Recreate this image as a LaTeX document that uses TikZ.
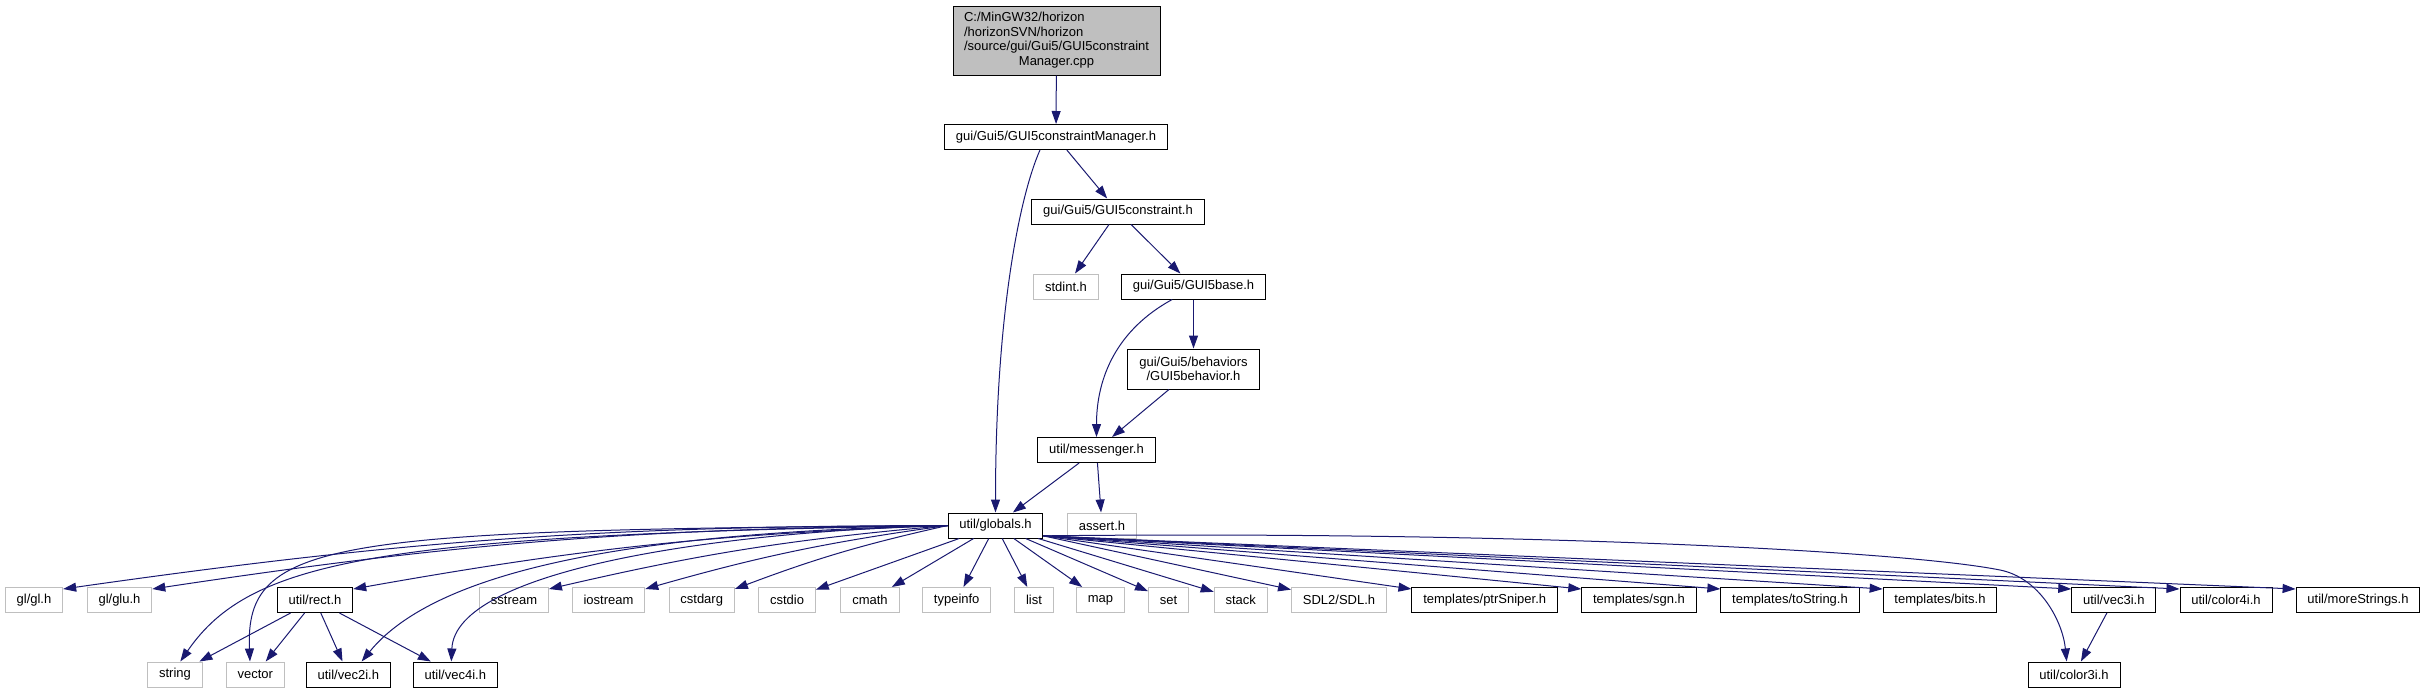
\documentclass[tikz,border=0pt]{standalone}
\usepackage{fontspec}
\setmainfont{Liberation Sans}
\usetikzlibrary{arrows.meta}
\definecolor{edgeblue}{RGB}{25,25,112}
\definecolor{sysgray}{RGB}{191,191,191}

\begin{document}
\begin{tikzpicture}[
  x=0.75pt, y=-0.75pt,
  incfile/.style={rectangle, draw=black, fill=white, line width=0.75pt, inner xsep=8.5pt, inner ysep=1pt, minimum height=18.75pt, font=\fontsize{9.75}{11}\selectfont},
  sysfile/.style={incfile, draw=sysgray},
  rootfile/.style={incfile, fill=sysgray, inner xsep=8.25pt, minimum height=51.75pt},
  arrow/.style={-{Triangle[length=9.75pt, width=6.75pt]}, draw=edgeblue, line width=0.75pt},
]
\useasboundingbox (0,0) rectangle (2425,693);

% Nodes
\node[rootfile] (root) at (1056.5,40.5) {\begin{tabular}{@{}l@{}}C:/MinGW32/horizon\\/horizonSVN/horizon\\/source/gui/Gui5/GUI5constraint\\\multicolumn{1}{@{}c@{}}{Manager.cpp}\end{tabular}};
\node[incfile] (mgr) at (1056,137) {gui/Gui5/GUI5constraintManager.h};
\node[incfile] (cons) at (1118,211.5) {gui/Gui5/GUI5constraint.h};
\node[sysfile] (stdint) at (1066,286.5) {stdint.h};
\node[incfile] (base) at (1193.5,286.5) {gui/Gui5/GUI5base.h};
\node[incfile, align=center, minimum height=30pt] (behav) at (1193.5,369) {gui/Gui5/behaviors\\/GUI5behavior.h};
\node[incfile] (msg) at (1096.5,450) {util/messenger.h};
\node[incfile] (glob) at (995.5,525.5) {util/globals.h};
\node[sysfile] (assrt) at (1102,525.5) {assert.h};

% Row of headers used by globals.h
\node[sysfile] (gl) at (34,600) {gl/gl.h};
\node[sysfile] (glu) at (119.5,600) {gl/glu.h};
\node[incfile] (rect) at (315,600) {util/rect.h};
\node[sysfile] (sstr) at (514,600) {sstream};
\node[sysfile] (iostr) at (608.5,600) {iostream};
\node[sysfile] (cstdarg) at (701.7,600) {cstdarg};
\node[sysfile] (cstdio) at (787,600) {cstdio};
\node[sysfile] (cmath) at (870,600) {cmath};
\node[sysfile] (tinfo) at (956.7,600) {typeinfo};
\node[sysfile] (list) at (1034,600) {list};
\node[sysfile] (map) at (1100.5,600) {map};
\node[sysfile] (set) at (1168.5,600) {set};
\node[sysfile] (stack) at (1240.7,600) {stack};
\node[sysfile] (sdl) at (1339,600) {SDL2/SDL.h};
\node[incfile] (ptrsn) at (1484.7,600) {templates/ptrSniper.h};
\node[incfile] (sgn) at (1639,600) {templates/sgn.h};
\node[incfile] (tostr) at (1790,600) {templates/toString.h};
\node[incfile] (bits) at (1940,600) {templates/bits.h};
\node[incfile] (vecthree) at (2113.8,600) {util/vec3i.h};
\node[incfile] (colfour) at (2226,600) {util/color4i.h};
\node[incfile] (morestr) at (2358,600) {util/moreStrings.h};

% Bottom row
\node[sysfile] (str) at (175,674.5) {string};
\node[sysfile] (vec) at (255.3,674.5) {vector};
\node[incfile] (vectwo) at (348.3,674.5) {util/vec2i.h};
\node[incfile] (vecfour) at (455.3,674.5) {util/vec4i.h};
\node[incfile] (colthree) at (2074,674.5) {util/color3i.h};

% Arrows
\draw[arrow] (root) -- (mgr);
\draw[arrow] (mgr) -- (cons);
\draw[arrow] ([xshift=-12pt]mgr.south) .. controls +(-20,45) and +(0,-200) .. (glob.north);
\draw[arrow] (cons) -- (stdint);
\draw[arrow] (cons) -- (base);
\draw[arrow] ([xshift=-16pt]base.south) .. controls +(-55,30) and +(0,-60) .. (msg.north);
\draw[arrow] (base) -- (behav);
\draw[arrow] (behav) -- (msg);
\draw[arrow] (msg) -- (glob);
\draw[arrow] (msg) -- (assrt);

% globals.h, to the left
\draw[arrow] (glob.west) to[bend right=4] ([yshift=-1.5pt]gl.north east);
\draw[arrow] (glob.west) to[bend right=4] ([yshift=-1.5pt]glu.north east);
\draw[arrow] (glob.west) to[bend right=4] ([yshift=-1.5pt]rect.north east);
\draw[arrow] (glob.west) to[bend right=4] ([yshift=-1.5pt]sstr.north east);
\draw[arrow] (glob.west) to[bend right=4] ([yshift=-1.5pt]iostr.north east);
\draw[arrow] (glob.west) to[bend right=4] ([yshift=-1.5pt]cstdarg.north east);
\draw[arrow] (glob.west) .. controls +(-568,9.5) and +(70,-102) .. ([xshift=4pt]str.north);
\draw[arrow] (glob.west) .. controls +(-618,4.5) and +(-5,-122) .. ([xshift=-4pt]vec.north);
\draw[arrow] (glob.west) .. controls +(-268,6) and +(83,-102) .. ([xshift=10pt]vectwo.north);
\draw[arrow] (glob.west) .. controls +(-228,6) and +(4,-92) .. ([xshift=-3pt]vecfour.north);

% globals.h, below
\draw[arrow] (glob) -- (cstdio);
\draw[arrow] (glob) -- (cmath);
\draw[arrow] (glob) -- (tinfo);
\draw[arrow] (glob) -- (list);
\draw[arrow] (glob) -- (map);
\draw[arrow] (glob) -- (set);
\draw[arrow] (glob) -- (stack);
\draw[arrow] (glob) -- (sdl);

% globals.h, to the right
\draw[arrow] ([yshift=2pt]glob.south east) -- ([yshift=-1.5pt]ptrsn.north west);
\draw[arrow] ([yshift=2pt]glob.south east) -- ([yshift=-1.5pt]sgn.north west);
\draw[arrow] ([yshift=2pt]glob.south east) -- ([yshift=-1.5pt]tostr.north west);
\draw[arrow] ([yshift=2pt]glob.south east) -- ([yshift=-1.5pt]bits.north west);
\draw[arrow] ([yshift=2pt]glob.south east) -- ([yshift=-1.5pt]vecthree.north west);
\draw[arrow] ([yshift=2pt]glob.south east) -- ([yshift=-1.5pt]colfour.north west);
\draw[arrow] ([yshift=2pt]glob.south east) -- ([yshift=-1.5pt]morestr.north west);
\draw[arrow] ([yshift=2pt]glob.south east) .. controls +(457,-5) and +(-100,-20) .. (2000,570)
  .. controls +(40,8) and +(-4,-40) .. ([xshift=-5.5pt]colthree.north);

% Second level
\draw[arrow] (rect) -- (str);
\draw[arrow] (rect) -- (vec);
\draw[arrow] (rect) -- (vectwo);
\draw[arrow] (rect) -- (vecfour);
\draw[arrow] (vecthree) -- (colthree);
\end{tikzpicture}
\end{document}
